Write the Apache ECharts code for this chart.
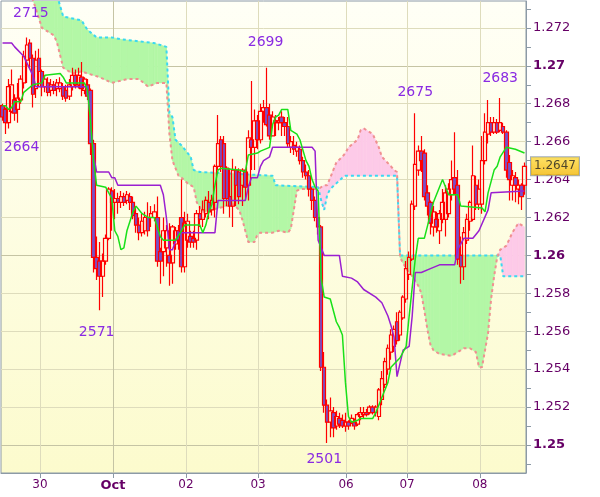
<!DOCTYPE html>
<html><head><meta charset="utf-8">
<script src="https://cdn.jsdelivr.net/npm/echarts@6/dist/echarts.min.js"></script>
<style>html,body{margin:0;padding:0;background:#fff}#c{width:600px;height:497px}</style>
</head><body><div id="c"></div>
<script>
// ---- Hourly candles: [open, close, low, high]; x = bar index ----
const candles = [
[1.2679,1.2673,1.2671,1.2680],[1.2677,1.2670,1.2664,1.2678],[1.2670,1.2689,1.2667,1.2693],[1.2676,1.2690,1.2675,1.2698],
[1.2682,1.2675,1.2671,1.2685],[1.2677,1.2683,1.2670,1.2691],[1.2682,1.2693,1.2680,1.2695],[1.2691,1.2705,1.2688,1.2708],
[1.2703,1.2711,1.2691,1.2715],[1.2712,1.2704,1.2699,1.2714],[1.2704,1.2685,1.2678,1.2706],[1.2688,1.2703,1.2683,1.2708],
[1.2704,1.2697,1.2689,1.2709],[1.2697,1.2689,1.2684,1.2698],[1.2689,1.2693,1.2686,1.2695],[1.2691,1.2686,1.2684,1.2694],
[1.2687,1.2690,1.2684,1.2693],[1.2690,1.2687,1.2685,1.2692],[1.2688,1.2691,1.2684,1.2693],[1.2688,1.2691,1.2686,1.2694],
[1.2689,1.2684,1.2682,1.2691],[1.2687,1.2683,1.2681,1.2690],[1.2684,1.2690,1.2682,1.2693],[1.2689,1.2695,1.2687,1.2699],
[1.2695,1.2690,1.2688,1.2698],[1.2690,1.2695,1.2688,1.2699],[1.2694,1.2688,1.2684,1.2702],[1.2687,1.2693,1.2685,1.2694],
[1.2690,1.2684,1.2682,1.2693],[1.2687,1.2659,1.2653,1.2688],[1.2659,1.2599,1.2591,1.2661],[1.2599,1.2593,1.2587,1.2610],
[1.2597,1.2589,1.2571,1.2607],[1.2589,1.2597,1.2578,1.2601],[1.2597,1.2609,1.2595,1.2611],[1.2609,1.2635,1.2608,1.2636],
[1.2634,1.2628,1.2613,1.2636],[1.2628,1.2630,1.2619,1.2635],[1.2630,1.2628,1.2622,1.2633],[1.2628,1.2631,1.2625,1.2634],
[1.2631,1.2628,1.2626,1.2633],[1.2629,1.2632,1.2627,1.2634],[1.2631,1.2628,1.2624,1.2633],[1.2628,1.2621,1.2619,1.2631],
[1.2622,1.2616,1.2612,1.2625],[1.2616,1.2612,1.2608,1.2620],[1.2612,1.2618,1.2610,1.2622],[1.2613,1.2620,1.2611,1.2623],
[1.2620,1.2613,1.2610,1.2628],[1.2620,1.2622,1.2615,1.2626],[1.2620,1.2623,1.2618,1.2627],[1.2620,1.2597,1.2594,1.2631],
[1.2602,1.2597,1.2585,1.2604],[1.2602,1.2613,1.2589,1.2620],[1.2604,1.2613,1.2594,1.2616],[1.2600,1.2596,1.2584,1.2617],
[1.2596,1.2615,1.2585,1.2616],[1.2606,1.2613,1.2603,1.2615],[1.2613,1.2608,1.2603,1.2616],[1.2620,1.2594,1.2591,1.2640],
[1.2594,1.2617,1.2591,1.2623],[1.2608,1.2618,1.2604,1.2622],[1.2610,1.2607,1.2604,1.2613],[1.2609,1.2607,1.2604,1.2613],
[1.2608,1.2622,1.2603,1.2624],[1.2622,1.2619,1.2615,1.2626],[1.2619,1.2624,1.2615,1.2629],[1.2622,1.2629,1.2620,1.2631],
[1.2628,1.2623,1.2619,1.2634],[1.2624,1.2629,1.2621,1.2632],[1.2628,1.2647,1.2620,1.2648],[1.2647,1.2659,1.2645,1.2674],
[1.2661,1.2647,1.2644,1.2663],[1.2659,1.2630,1.2622,1.2663],[1.2646,1.2630,1.2626,1.2647],[1.2631,1.2626,1.2620,1.2646],
[1.2626,1.2645,1.2615,1.2651],[1.2645,1.2637,1.2626,1.2647],[1.2644,1.2631,1.2627,1.2646],[1.2637,1.2645,1.2626,1.2646],
[1.2644,1.2636,1.2629,1.2645],[1.2637,1.2662,1.2629,1.2666],[1.2661,1.2657,1.2645,1.2692],[1.2657,1.2671,1.2645,1.2677],
[1.2671,1.2661,1.2656,1.2674],[1.2661,1.2676,1.2659,1.2680],[1.2676,1.2678,1.2670,1.2682],[1.2678,1.2669,1.2668,1.2699],
[1.2674,1.2663,1.2661,1.2680],[1.2663,1.2673,1.2663,1.2676],[1.2671,1.2670,1.2663,1.2674],[1.2670,1.2671,1.2666,1.2673],
[1.2673,1.2670,1.2663,1.2676],[1.2670,1.2668,1.2663,1.2673],[1.2668,1.2659,1.2657,1.2673],[1.2657,1.2660,1.2654,1.2663],
[1.2658,1.2656,1.2653,1.2663],[1.2655,1.2657,1.2652,1.2660],[1.2656,1.2650,1.2648,1.2658],[1.2650,1.2644,1.2641,1.2652],
[1.2644,1.2642,1.2640,1.2648],[1.2642,1.2635,1.2631,1.2645],[1.2635,1.2629,1.2624,1.2636],[1.2629,1.2620,1.2618,1.2631],
[1.2620,1.2615,1.2611,1.2622],[1.2615,1.2541,1.2539,1.2616],[1.2541,1.2521,1.2517,1.2549],[1.2521,1.2512,1.2501,1.2524],
[1.2512,1.2518,1.2504,1.2525],[1.2517,1.2509,1.2504,1.2520],[1.2510,1.2515,1.2508,1.2518],[1.2514,1.2511,1.2509,1.2517],
[1.2513,1.2510,1.2509,1.2516],[1.2510,1.2512,1.2507,1.2517],[1.2512,1.2510,1.2508,1.2513],[1.2512,1.2514,1.2511,1.2516],
[1.2512,1.2510,1.2508,1.2514],[1.2511,1.2516,1.2510,1.2517],[1.2515,1.2517,1.2513,1.2520],[1.2516,1.2517,1.2514,1.2520],
[1.2517,1.2516,1.2515,1.2519],[1.2517,1.2520,1.2516,1.2521],[1.2520,1.2517,1.2516,1.2521],[1.2517,1.2520,1.2515,1.2521],
[1.2515,1.2529,1.2513,1.2530],[1.2524,1.2535,1.2521,1.2539],[1.2532,1.2544,1.2530,1.2546],[1.2540,1.2551,1.2537,1.2553],
[1.2549,1.2558,1.2545,1.2561],[1.2552,1.2561,1.2549,1.2563],[1.2565,1.2555,1.2553,1.2570],[1.2558,1.2570,1.2555,1.2571],
[1.2567,1.2578,1.2566,1.2579],[1.2577,1.2593,1.2575,1.2597],[1.2590,1.2599,1.2587,1.2602],[1.2598,1.2627,1.2597,1.2629],
[1.2626,1.2648,1.2624,1.2675],[1.2645,1.2655,1.2642,1.2658],[1.2655,1.2650,1.2644,1.2663],[1.2654,1.2631,1.2629,1.2656],
[1.2633,1.2626,1.2621,1.2637],[1.2628,1.2617,1.2611,1.2629],[1.2615,1.2623,1.2610,1.2626],[1.2619,1.2615,1.2612,1.2623],
[1.2613,1.2622,1.2606,1.2624],[1.2619,1.2628,1.2617,1.2635],[1.2619,1.2633,1.2610,1.2637],[1.2622,1.2635,1.2620,1.2638],
[1.2632,1.2640,1.2629,1.2650],[1.2641,1.2635,1.2632,1.2665],[1.2637,1.2598,1.2595,1.2645],[1.2600,1.2594,1.2585,1.2610],
[1.2594,1.2612,1.2587,1.2615],[1.2608,1.2619,1.2606,1.2622],[1.2618,1.2628,1.2613,1.2629],[1.2619,1.2642,1.2618,1.2658],
[1.2637,1.2627,1.2624,1.2642],[1.2627,1.2635,1.2624,1.2640],[1.2627,1.2650,1.2622,1.2663],[1.2650,1.2665,1.2648,1.2675],
[1.2664,1.2670,1.2659,1.2682],[1.2670,1.2665,1.2663,1.2673],[1.2665,1.2670,1.2664,1.2673],[1.2670,1.2665,1.2664,1.2672],
[1.2666,1.2670,1.2665,1.2683],[1.2668,1.2665,1.2664,1.2670],[1.2665,1.2645,1.2641,1.2666],[1.2649,1.2640,1.2629,1.2653],
[1.2637,1.2642,1.2629,1.2645],[1.2641,1.2637,1.2628,1.2644],[1.2635,1.2637,1.2627,1.2640],[1.2637,1.2631,1.2624,1.2638],
[1.2637,1.2647,1.2632,1.2649]
];

// ---- Ichimoku lines: [bar index, price] ----
const tenkan = [[0,1.2679],[1,1.2679],[2,1.2677],[3,1.2678],[4,1.2681],[6,1.2681],[7,1.2686],[10,1.2690],[13,1.2691],[14,1.2695],[19,1.2696],[20,1.2694],[21,1.2691],[27,1.2691],[28,1.2687],[29,1.2671],[30,1.2650],[31,1.2637],[34,1.2636],[36,1.2630],[37,1.2613],[38,1.2610],[39,1.2603],[40,1.2604],[41,1.2613],[43,1.2623],[44,1.2626],[46,1.2622],[48,1.2620],[50,1.2620],[52,1.2610],[53,1.2608],[57,1.2608],[59,1.2613],[60,1.2616],[65,1.2616],[66,1.2612],[67,1.2616],[68,1.2623],[69,1.2627],[70,1.2637],[71,1.2645],[72,1.2646],[78,1.2645],[80,1.2644],[81,1.2653],[84,1.2654],[85,1.2655],[88,1.2657],[89,1.2669],[90,1.2673],[91,1.2674],[92,1.2677],[94,1.2677],[95,1.2666],[97,1.2664],[98,1.2661],[100,1.2650],[101,1.2647],[102,1.2640],[103,1.2636],[104,1.2634],[105,1.2588],[106,1.2578],[108,1.2577],[110,1.2565],[111,1.2562],[112,1.2558],[113,1.2533],[114,1.2515],[115,1.2512],[117,1.2513],[118,1.2514],[122,1.2514],[123,1.2517],[125,1.2525],[127,1.2533],[128,1.2541],[131,1.2546],[133,1.2552],[134,1.2568],[136,1.2598],[137,1.2609],[139,1.2609],[142,1.2628],[145,1.2640],[147,1.2632],[150,1.2632],[151,1.2626],[158,1.2625],[159,1.2623],[160,1.2633],[162,1.2645],[163,1.2647],[164,1.2652],[166,1.2657],[169,1.2656],[172,1.2654]];
const kijun = [[0,1.2712],[3,1.2712],[4,1.2710],[7,1.2705],[10,1.2695],[11,1.2689],[27,1.2689],[28,1.2688],[29,1.2671],[30,1.2653],[31,1.2644],[35,1.2644],[36,1.2641],[37,1.2641],[38,1.2637],[52,1.2637],[53,1.2632],[54,1.2620],[55,1.2603],[56,1.2603],[58,1.2612],[70,1.2612],[71,1.2629],[80,1.2629],[81,1.2636],[82,1.2641],[84,1.2641],[85,1.2647],[86,1.2650],[88,1.2652],[89,1.2657],[102,1.2657],[103,1.2655],[104,1.2608],[106,1.2600],[111,1.2600],[112,1.2589],[115,1.2588],[117,1.2586],[119,1.2582],[123,1.2578],[125,1.2575],[127,1.2568],[128,1.2563],[129,1.2557],[130,1.2536],[132,1.2550],[134,1.2552],[135,1.2568],[136,1.2591],[138,1.2591],[141,1.2593],[144,1.2595],[149,1.2595],[150,1.2603],[152,1.2609],[155,1.2609],[157,1.2613],[160,1.2624],[161,1.2633],[172,1.2634]];
const senkouA = [[0,1.2765],[17,1.2760],[18,1.2737],[20,1.2726],[26,1.2724],[28,1.2719],[31,1.2715],[36,1.2715],[39,1.2714],[50,1.2712],[54,1.2710],[55,1.2675],[56,1.2673],[57,1.2661],[59,1.2658],[62,1.2652],[63,1.2645],[65,1.2644],[89,1.2642],[90,1.2637],[104,1.2636],[105,1.2629],[106,1.2624],[107,1.2632],[108,1.2635],[110,1.2638],[112,1.2641],[113,1.2642],[130,1.2642],[131,1.2600],[164,1.2600],[165,1.2589],[172,1.2589]];
const senkouB = [[0,1.2752],[9,1.2745],[10,1.2735],[11,1.2730],[13,1.2720],[17,1.2716],[18,1.2712],[20,1.2699],[23,1.2696],[26,1.2697],[32,1.2694],[36,1.2691],[41,1.2693],[45,1.2693],[48,1.2689],[51,1.2691],[54,1.2691],[55,1.2664],[56,1.2650],[58,1.2642],[59,1.2641],[61,1.2638],[63,1.2636],[64,1.2628],[66,1.2623],[69,1.2624],[76,1.2627],[78,1.2624],[79,1.2619],[80,1.2613],[81,1.2607],[83,1.2607],[84,1.2611],[85,1.2612],[89,1.2612],[91,1.2613],[94,1.2612],[95,1.2614],[96,1.2624],[97,1.2634],[98,1.2635],[104,1.2635],[106,1.2637],[107,1.2637],[108,1.2641],[109,1.2645],[110,1.2649],[112,1.2652],[113,1.2654],[114,1.2657],[117,1.2661],[118,1.2666],[119,1.2667],[120,1.2666],[122,1.2664],[124,1.2657],[125,1.2652],[128,1.2647],[129,1.2645],[130,1.2644],[131,1.2599],[132,1.2596],[133,1.2593],[135,1.2589],[137,1.2584],[138,1.2580],[139,1.2571],[140,1.2561],[141,1.2553],[142,1.2550],[144,1.2548],[148,1.2547],[150,1.2549],[152,1.2551],[154,1.2551],[156,1.2549],[157,1.2541],[158,1.2541],[159,1.2550],[160,1.2559],[161,1.2577],[162,1.2589],[163,1.2599],[164,1.2603],[166,1.2605],[168,1.2612],[170,1.2617],[172,1.2615]];

// ---- Annotated extremes (bar index, which extreme) ----
const extremeBars = [8, 1, 32, 87, 107, 136, 164];
const extremeKinds = ['high','low','low','high','low','high','high'];

// ---- Axis ticks ----
const xTickValues = [12.35, 36.4, 60.45, 84.2, 113.2, 133.3, 157.3];
const xTickLabels = ['30','Oct','02','03','06','07','08'];
const yLabelValues = [1.25,1.252,1.254,1.256,1.258,1.26,1.262,1.264,1.266,1.268,1.27,1.272];
const yTickValues = [1.249,1.25,1.251,1.252,1.253,1.254,1.255,1.256,1.257,1.258,1.259,1.26,1.261,1.262,1.263,1.264,1.265,1.266,1.267,1.268,1.269,1.27,1.271,1.272,1.273];

// ---------------------------------------------------------------
const FONT = 'DejaVu Sans';
const GREEN_FILL = '#b3f7a6', PINK_FILL = '#fdcae8';
const candleData = candles.map((c, i) => [i, c[0], c[1], c[2], c[3]]);
const lastIndex = candles.length - 1;
const lastClose = candles[lastIndex][1];

function evalPoly(pts, x) {
  if (x <= pts[0][0]) return pts[0][1];
  for (let k = 1; k < pts.length; k++) {
    if (x <= pts[k][0]) {
      const x0 = pts[k-1][0], y0 = pts[k-1][1], x1 = pts[k][0], y1 = pts[k][1];
      return y0 + (y1 - y0) * (x - x0) / (x1 - x0);
    }
  }
  return pts[pts.length - 1][1];
}
const cloudXs = Array.from(new Set(senkouA.map(p => p[0]).concat(senkouB.map(p => p[0])))).sort((a, b) => a - b);
const cloudSegs = [];
for (let k = 0; k < cloudXs.length - 1; k++) {
  const x0 = cloudXs[k], x1 = cloudXs[k+1];
  cloudSegs.push([x0, evalPoly(senkouA, x0), evalPoly(senkouB, x0), x1, evalPoly(senkouA, x1), evalPoly(senkouB, x1)]);
}
function renderCloud(params, api) {
  const x0 = api.value(0), a0 = api.value(1), b0 = api.value(2);
  const x1 = api.value(3), a1 = api.value(4), b1 = api.value(5);
  const d0 = a0 - b0, d1 = a1 - b1;
  const children = [];
  const poly = (pts, color) => children.push({
    type: 'polygon', shape: { points: pts.map(p => api.coord(p)) },
    style: { fill: color, stroke: color, lineWidth: 0.6 }
  });
  if (d0 * d1 >= 0) {
    poly([[x0,a0],[x1,a1],[x1,b1],[x0,b0]], (d0 + d1) >= 0 ? GREEN_FILL : PINK_FILL);
  } else {
    const t = d0 / (d0 - d1);
    const xc = x0 + t * (x1 - x0), yc = a0 + t * (a1 - a0);
    poly([[x0,a0],[xc,yc],[x0,b0]], d0 > 0 ? GREEN_FILL : PINK_FILL);
    poly([[xc,yc],[x1,a1],[x1,b1]], d1 > 0 ? GREEN_FILL : PINK_FILL);
  }
  return { type: 'group', children };
}

const annOffsets = [[4,-24],[16,13],[-3,22],[-1,-25],[-3,16],[0,-21],[0,-20]];
const markData = extremeBars.map((b, k) => {
  const price = extremeKinds[k] === 'high' ? candles[b][3] : candles[b][2];
  return {
    coord: [b, price],
    value: String(Math.round(price * 10000) % 10000).padStart(4, '0'),
    label: { offset: annOffsets[k] }
  };
});

const AXIS_GREY = '#8c9aa6', LIGHT = '#dedcbc', DARK = '#c5c4a4', T = 'rgba(0,0,0,0)';
const X_MAX = 172.5;

const option = {
  animation: false,
  backgroundColor: '#ffffff',
  grid: {
    left: 1, right: 74, top: 1, bottom: 24, show: true,
    backgroundColor: { type: 'linear', x: 0, y: 0, x2: 0, y2: 1,
      colorStops: [{ offset: 0, color: '#fffff6' }, { offset: 1, color: '#fcfbcd' }] },
    borderColor: AXIS_GREY, borderWidth: 1
  },
  xAxis: {
    type: 'value', min: -0.5, max: X_MAX,
    axisLine: { show: true, onZero: false, lineStyle: { color: AXIS_GREY } },
    axisTick: { show: true, length: 5, customValues: xTickValues, lineStyle: { color: AXIS_GREY } },
    axisLabel: {
      customValues: xTickValues, margin: 6, color: '#660066', fontFamily: FONT, fontSize: 12,
      formatter: (v) => {
        let k = 0, best = 1e9;
        xTickValues.forEach((t, j) => { const d = Math.abs(t - v); if (d < best) { best = d; k = j; } });
        const s = xTickLabels[k];
        return /^\d+$/.test(s) ? s : '{b|' + s + '}';
      },
      rich: { b: { fontWeight: 'bold', fontSize: 13, color: '#660066', fontFamily: FONT } }
    },
    splitLine: { show: true, lineStyle: { color: [LIGHT, DARK, LIGHT, LIGHT, LIGHT, LIGHT, LIGHT], width: 1 } }
  },
  yAxis: {
    type: 'value', position: 'right', min: 1.24852, max: 1.27342,
    axisLine: { show: true, onZero: false, lineStyle: { color: AXIS_GREY } },
    axisTick: { show: true, length: 5, customValues: yTickValues, lineStyle: { color: AXIS_GREY } },
    axisLabel: {
      customValues: yLabelValues, margin: 7, color: '#660066', fontFamily: FONT, fontSize: 13,
      formatter: (v) => {
        const m = Math.round(v * 1000);
        return m % 10 === 0 ? '{b|' + (m / 1000).toFixed(2) + '}' : (m / 1000).toFixed(3);
      },
      rich: { b: { fontWeight: 'bold', fontSize: 13, color: '#660066', fontFamily: FONT } }
    },
    splitLine: { show: true, lineStyle: { color: [T, DARK, T, LIGHT, T, LIGHT, T, LIGHT, T, LIGHT], width: 1 } }
  },
  series: [
    { type: 'custom', data: cloudSegs, renderItem: renderCloud, clip: true, z: 1, silent: true },
    { type: 'line', data: senkouA, symbol: 'none', z: 2, silent: true,
      lineStyle: { color: '#3ad8f2', width: 2, type: [3, 3] } },
    { type: 'line', data: senkouB, symbol: 'none', z: 2, silent: true,
      lineStyle: { color: '#f09090', width: 2, type: [3, 3] } },
    { type: 'candlestick', data: candleData, barWidth: 4, z: 3, silent: true,
      itemStyle: { color: 'rgba(255,255,255,0)', color0: '#7850c8', borderColor: '#ff0000', borderColor0: '#ff0000', borderWidth: 1.2 },
      markPoint: {
        symbol: 'circle', symbolSize: 1, silent: true, animation: false,
        itemStyle: { color: 'rgba(0,0,0,0)' },
        label: { show: true, position: 'inside', formatter: '{c}', color: '#8a2be2', fontSize: 14, fontFamily: FONT },
        data: markData
      }
    },
    { type: 'line', data: kijun, symbol: 'none', z: 4, silent: true,
      lineStyle: { color: '#9a1fd0', width: 1.5 } },
    { type: 'line', data: tenkan, symbol: 'none', z: 4, silent: true,
      lineStyle: { color: '#19e019', width: 1.5 } },
    { type: 'scatter', data: [[X_MAX, lastClose]], symbolSize: 0, clip: false, z: 6, silent: true,
      itemStyle: { color: 'rgba(0,0,0,0)' },
      label: {
        show: true, position: 'right', distance: 5, formatter: (p) => p.value[1].toFixed(4),
        color: '#222', fontFamily: FONT, fontSize: 12, padding: [3, 3, 3, 3],
        backgroundColor: { type: 'linear', x: 0, y: 0, x2: 0, y2: 1,
          colorStops: [{ offset: 0, color: '#ffdc40' }, { offset: 1, color: '#f2b400' }] },
        borderColor: AXIS_GREY, borderWidth: 1
      },
      labelLayout: { hideOverlap: false }
    }
  ]
};
const chart = echarts.init(document.getElementById('c'), null, { renderer: 'canvas' });
chart.setOption(option);
</script></body></html>
